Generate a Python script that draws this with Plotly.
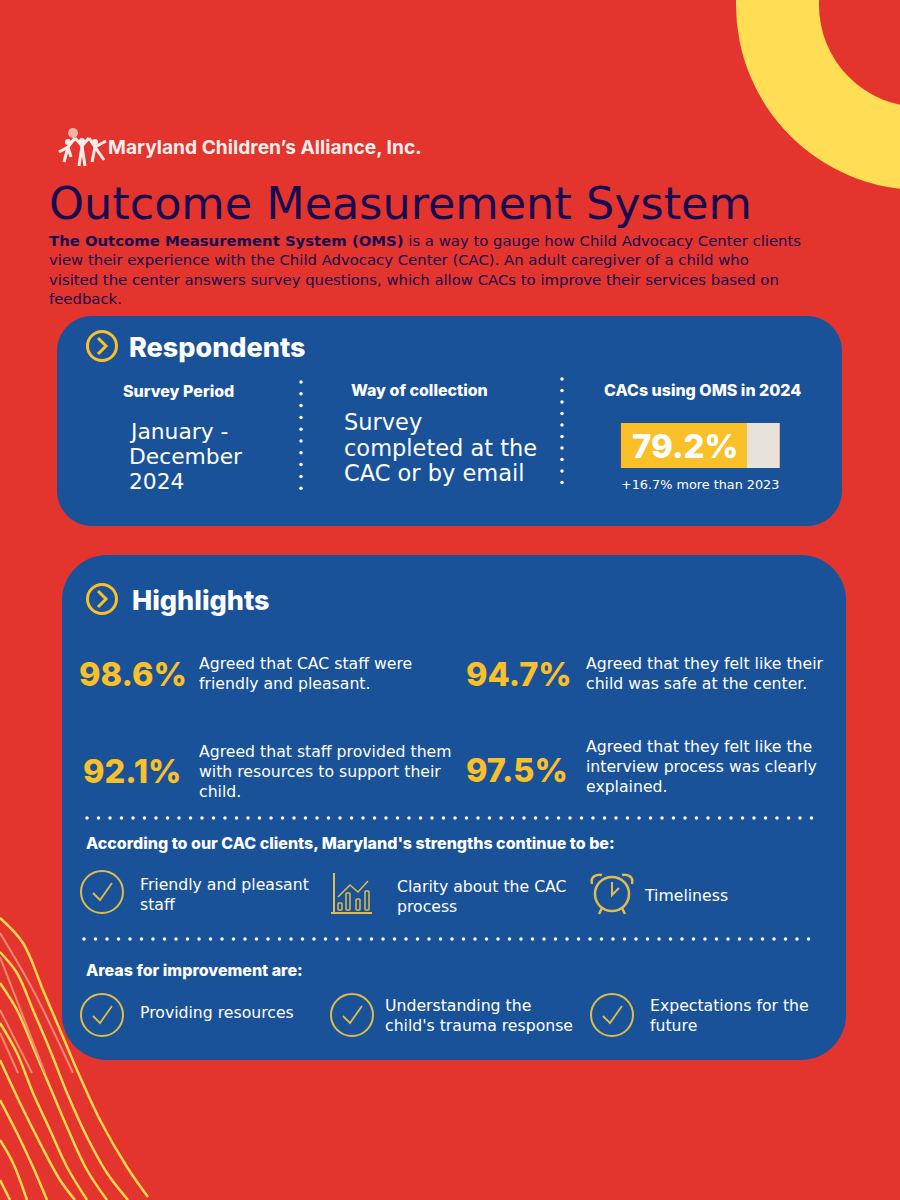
import numpy as np
import plotly.graph_objects as go

RED = "#E3342D"
BLUE = "#1A5299"
GOLD = "#F9C02A"
ICON = "#E0BC4A"
NAVY = "#170A50"
FONT = "DejaVu Sans"
HEAVY = "Inter"

# headline numbers
oms_used = 79.2
oms_rest = 100 - oms_used
highlight_pcts = ["98.6%", "94.7%", "92.1%", "97.5%"]

title = "Outcome Measurement System"
intro_lines = [
    "<b>The Outcome Measurement System (OMS)</b> is a way to gauge how Child Advocacy Center clients",
    "view their experience with the Child Advocacy Center (CAC). An adult caregiver of a child who",
    "visited the center answers survey questions, which allow CACs to improve their services based on",
    "feedback.",
]
highlight_text = [
    ["Agreed that CAC staff were", "friendly and pleasant."],
    ["Agreed that they felt like their", "child was safe at the center."],
    ["Agreed that staff provided them", "with resources to support their", "child."],
    ["Agreed that they felt like the", "interview process was clearly", "explained."],
]

# decorative lines, bottom left
curves_x = [
    [0, 23, 43, 63, 77, 100, 127, 148],
    [0, 17, 33, 50, 67, 87, 107, 128],
    [0, 17, 33, 50, 67, 87, 107],
    [0, 17, 33, 50, 67, 87],
    [0, 20, 40, 60, 75],
    [0, 17, 33, 47],
    [0, 13, 27],
    [0, 10],
]
curves_y = [
    [918, 943, 990, 1037, 1070, 1120, 1167, 1197],
    [952, 973, 1010, 1050, 1093, 1137, 1173, 1200],
    [983, 1010, 1047, 1087, 1127, 1170, 1200],
    [1023, 1053, 1093, 1130, 1167, 1200],
    [1060, 1103, 1143, 1180, 1200],
    [1100, 1133, 1167, 1200],
    [1140, 1163, 1200],
    [1180, 1200],
]
faded_x = [[0, 33, 73], [0, 45], [0, 32], [0, 18]]
faded_y = [[933, 990, 1073], [957, 1073], [1010, 1073], [1033, 1073]]

fig = go.Figure()


def rounded(x0, y0, x1, y1, r):
    k = r * 0.45
    return (
        f"M{x0+r},{y0} L{x1-r},{y0} C{x1-k},{y0} {x1},{y0+k} {x1},{y0+r} "
        f"L{x1},{y1-r} C{x1},{y1-k} {x1-k},{y1} {x1-r},{y1} "
        f"L{x0+r},{y1} C{x0+k},{y1} {x0},{y1-k} {x0},{y1-r} "
        f"L{x0},{y0+r} C{x0},{y0+k} {x0+k},{y0} {x0+r},{y0} Z"
    )


def circle(cx, cy, r, line=None, width=2, fill=None):
    fig.add_shape(type="circle", x0=cx - r, x1=cx + r, y0=cy - r, y1=cy + r,
                  line=dict(color=line, width=width if line else 0),
                  fillcolor=fill, layer="above" if line else "below")


def stroke(path, color=ICON, width=2):
    fig.add_shape(type="path", path=path, line=dict(color=color, width=width), layer="above")


def check(cx, cy, r=21):
    circle(cx, cy, r, line=ICON, width=2)
    stroke(f"M{cx-9},{cy+1} L{cx-2},{cy+8} L{cx+10},{cy-9}", width=1.8)


def label(x, y, text, size=15.7, color="white", weight=400, anchor="left", family=FONT):
    # annotations carry about 2px of padding on the left
    fig.add_annotation(x=x - 2 if anchor == "left" else x, y=y, text=text, showarrow=False,
                       xanchor=anchor, yanchor="middle",
                       font=dict(family=family, size=size, color=color, weight=weight))


# ring top right
circle(921, 5, 185, fill="#FFDD55")
circle(921, 5, 102, fill=RED)

# panels
fig.add_shape(type="path", path=rounded(57, 316, 842, 526, 35), fillcolor=BLUE, line_width=0, layer="below")
fig.add_shape(type="path", path=rounded(62, 555, 846, 1060, 45), fillcolor=BLUE, line_width=0, layer="below")

# yellow curves
for cx, cy in zip(curves_x, curves_y):
    fig.add_trace(go.Scatter(x=cx, y=cy, mode="lines", line=dict(color="#FFD84D", width=2.5, shape="spline"),
                             hoverinfo="skip", showlegend=False))
for cx, cy in zip(faded_x, faded_y):
    fig.add_trace(go.Scatter(x=cx, y=cy, mode="lines", line=dict(color="#F58A6A", width=2, shape="spline"),
                             hoverinfo="skip", showlegend=False))

# dotted separators
row1 = np.arange(87, 814, 11.5)
row2 = np.arange(84, 812, 11.5)
dots_x = np.concatenate([row1, row2, np.full(10, 301), np.full(10, 562)])
dots_y = np.concatenate([np.full(len(row1), 818), np.full(len(row2), 939),
                         382 + 11.8 * np.arange(10), 379 + 11.5 * np.arange(10)])
fig.add_trace(go.Scatter(x=dots_x, y=dots_y, mode="markers", marker=dict(color="white", size=3.5),
                         hoverinfo="skip", showlegend=False))

# logo
label(108, 147, "Maryland Children’s Alliance, Inc.", size=19.2, weight=700, color="#FBEDEA", family=HEAVY)
for cx, cy, r in [(68, 142, 3), (82, 141, 3), (95, 142, 3)]:
    circle(cx, cy, r, fill="#FBEDEA")
for p in ["M59,152 L68,147 L75,138", "M68,147 L64,162", "M68,147 L71,157",
          "M75,138 L82,146 L89,138", "M82,146 L79,166 M82,146 L85,166",
          "M89,138 L95,147 L106,141", "M95,147 L92,162 M95,147 L104,160"]:
    stroke(p, color="#FBEDEA", width=3)
circle(73, 133, 5, fill="#F6B0A6")

# header
label(49, 203, title, size=44.5, color=NAVY)
for i, line in enumerate(intro_lines):
    label(49, 241 + i * 19.3, line, size=14.85, color=NAVY)

# respondents
circle(102, 346, 14.5, line=GOLD, width=3)
stroke("M98,338 L106,346 L98,354", color=GOLD, width=3)
label(129, 347, "Respondents", size=27, weight=800, family=HEAVY)
label(123, 391, "Survey Period", size=16, weight=800, family=HEAVY)
label(351, 390, "Way of collection", size=16, weight=800, family=HEAVY)
label(604, 390, "CACs using OMS in 2024", size=16, weight=800, family=HEAVY)
for i, line in enumerate(["January -", "December", "2024"]):
    label(129, 431 + i * 25, line, size=21.8)
for i, line in enumerate(["Survey", "completed at the", "CAC or by email"]):
    label(344, 422 + i * 25.5, line, size=22.5)
label(700, 484, "+16.7% more than 2023", size=12.8, anchor="center")

# progress bar on its own axis
fig.add_trace(go.Bar(x=[oms_used], y=[0], orientation="h", marker=dict(color=GOLD, line_width=0), width=1,
                     xaxis="x2", yaxis="y2", hoverinfo="skip", showlegend=False))
fig.add_trace(go.Bar(x=[oms_rest], y=[0], orientation="h", marker=dict(color="#E8E3DA", line_width=0), width=1,
                     xaxis="x2", yaxis="y2", hoverinfo="skip", showlegend=False))
label(685, 446, f"{oms_used}%", size=33, weight=800, anchor="center", family=HEAVY)

# highlights
circle(102, 599, 14.5, line=GOLD, width=3)
stroke("M98,591 L106,599 L98,607", color=GOLD, width=3)
label(132, 600, "Highlights", size=27, weight=800, family=HEAVY)

pct_pos = [(79, 674), (466, 674), (83, 771), (466, 770)]
text_pos = [(199, 663), (586, 663), (199, 751), (586, 746)]
for pct, (px, py) in zip(highlight_pcts, pct_pos):
    label(px, py, pct, size=32.5, color=GOLD, weight=800, family=HEAVY)
for lines, (tx, ty) in zip(highlight_text, text_pos):
    for i, line in enumerate(lines):
        label(tx, ty + i * 20, line)

label(86, 843, "According to our CAC clients, Maryland's strengths continue to be:", size=16, weight=800, family=HEAVY)
label(86, 970, "Areas for improvement are:", size=16, weight=800, family=HEAVY)

check(102, 892)
for i, line in enumerate(["Friendly and pleasant", "staff"]):
    label(140, 884 + i * 20, line)

# chart icon
stroke("M334,873 L334,913 M331,913 L372,913")
stroke("M338,897 L350,885 L358,892 L368,881", width=1.5)
for bx, by in [(338, 903), (346, 893), (356, 899), (365, 891)]:
    stroke(rounded(bx, by, bx + 4, 910, 1), width=1.5)
for i, line in enumerate(["Clarity about the CAC", "process"]):
    label(397, 886 + i * 20, line)

# clock icon
circle(612, 894, 17, line=ICON, width=2.5)
stroke("M592,884 C590,876 597,874 602,875", width=2.5)
stroke("M632,884 C634,876 627,874 622,875", width=2.5)
stroke("M602,908 L599,914 M622,908 L625,914", width=2.5)
stroke("M612,882 L612,895 L619,888", width=2)
label(644, 895, "Timeliness")

check(102, 1015)
label(140, 1012, "Providing resources")
check(352, 1015)
for i, line in enumerate(["Understanding the", "child's trauma response"]):
    label(385, 1005 + i * 20, line)
check(612, 1015)
for i, line in enumerate(["Expectations for the", "future"]):
    label(650, 1005 + i * 20, line)

fig.update_layout(
    width=900, height=1200,
    margin=dict(l=0, r=0, t=0, b=0),
    paper_bgcolor=RED, plot_bgcolor=RED,
    barmode="stack", bargap=0,
    xaxis=dict(range=[0, 900], visible=False),
    yaxis=dict(range=[1200, 0], visible=False),
    xaxis2=dict(domain=[620.7 / 900, 779.7 / 900], range=[0, 100], visible=False, anchor="y2"),
    yaxis2=dict(domain=[1 - 468 / 1200, 1 - 423 / 1200], range=[-0.5, 0.5], visible=False, anchor="x2"),
)

fig.write_html("out.html", config={"displayModeBar": False}, post_script="document.body.style.margin='0';")
